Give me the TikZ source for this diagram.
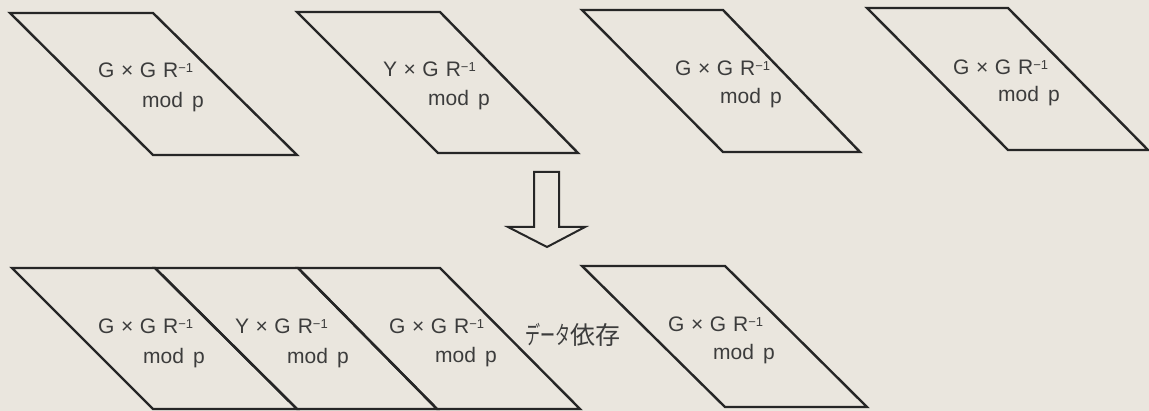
\documentclass[tikz,border=0pt]{standalone}
\usepackage{fontspec}
\usepackage{graphicx}
\setmainfont{Liberation Sans}
\newfontfamily\jpfont{Noto Sans CJK JP}
\definecolor{bgc}{RGB}{234,230,222}
\definecolor{linec}{RGB}{38,38,38}
\definecolor{textc}{RGB}{60,60,60}
\newcommand{\Rinv}{R\raisebox{5.5pt}{\fontsize{13}{13}\selectfont −1}}
\newcommand{\GGR}{G\hspace{6.5pt}×\hspace{6.5pt}G\hspace{7pt}\Rinv}
\newcommand{\YGR}{Y\hspace{6.5pt}×\hspace{6.5pt}G\hspace{7pt}\Rinv}
\newcommand{\modp}{mod\hspace{9pt}p}
\begin{document}
\begin{tikzpicture}[x=1pt,y=-1pt,
  para/.style={draw=linec,line width=2.4pt,line join=miter},
  blockarrow/.style={draw=linec,line width=2pt,line join=miter},
  lbl/.style={anchor=base west,inner sep=0pt,text=textc,font=\fontsize{21}{25}\selectfont},
  jplbl/.style={anchor=base west,inner sep=0pt,text=textc,font=\jpfont\fontsize{25}{30}\selectfont}]
\fill[bgc] (0,0) rectangle (1149,411);
\useasboundingbox (0,0) rectangle (1149,411);
% top row
\draw[para] (10,13) -- (153,13) -- (297,155) -- (153,155) -- cycle;
\draw[para] (297,12) -- (440,12) -- (578,153) -- (438,153) -- cycle;
\draw[para] (582,10) -- (723,10) -- (860,152) -- (723,152) -- cycle;
\draw[para] (867,8) -- (1008,8) -- (1148,150) -- (1008,150) -- cycle;
\node[lbl] (t1a) at (98,78) {\GGR};
\node[lbl] (t1b) at (142,108) {\modp};
\node[lbl] (t2a) at (383,77) {\YGR};
\node[lbl] (t2b) at (428,106) {\modp};
\node[lbl] (t3a) at (675,76) {\GGR};
\node[lbl] (t3b) at (720,104) {\modp};
\node[lbl] (t4a) at (953,75) {\GGR};
\node[lbl] (t4b) at (998,102) {\modp};
% block arrow
\coordinate (a1) at (534,172);
\coordinate (a2) at (559,172);
\coordinate (a3) at (559,227);
\coordinate (a4) at (585,227);
\coordinate (tip) at (547,247);
\coordinate (a6) at (508,227);
\coordinate (a7) at (534,227);
\draw[blockarrow] (a1) -- (a2) -- (a3) -- (a4) -- (tip) -- (a6) -- (a7) -- cycle;
% bottom row
\draw[para] (12,268) -- (155,268) -- (297,409) -- (153,409) -- cycle;
\draw[para] (155,268) -- (298,268) -- (437,409) -- (297,409) -- cycle;
\draw[para] (298,268) -- (440,268) -- (580,409) -- (437,409) -- cycle;
\draw[para] (582,266) -- (725,266) -- (867,407) -- (725,407) -- cycle;
\node[lbl] (b1a) at (98,334) {\GGR};
\node[lbl] (b1b) at (143,364) {\modp};
\node[lbl] (b2a) at (235,334) {\YGR};
\node[lbl] (b2b) at (287,364) {\modp};
\node[lbl] (b3a) at (389,334) {\GGR};
\node[lbl] (b3b) at (435,363) {\modp};
\node[jplbl] (dep) at (525,345) {\scalebox{0.6}[1]{データ}依存};
\node[lbl] (b4a) at (668,332) {\GGR};
\node[lbl] (b4b) at (713,360) {\modp};
\end{tikzpicture}
\end{document}
